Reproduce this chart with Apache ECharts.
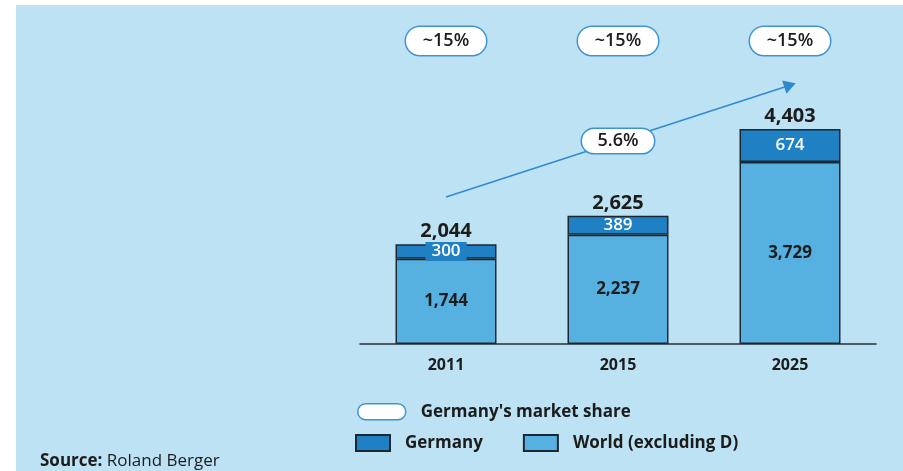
<!DOCTYPE html>
<html>
<head>
<meta charset="utf-8">
<script src="https://cdn.jsdelivr.net/npm/echarts@6/dist/echarts.min.js"></script>
<style>
  html, body { margin: 0; padding: 0; background: #ffffff; }
  #panel { position: absolute; left: 16px; top: 5px; right: 0; bottom: 0; background: #bde2f4; }
  #chart { position: absolute; left: 0; top: 0; width: 903px; height: 471px; }
</style>
</head>
<body>
<div id="panel"></div>
<div id="chart"></div>
<script>
// Market volume by year, split into Germany and rest of world
const years = ['2011', '2015', '2025'];
const germany = [300, 389, 674];
const world = [1744, 2237, 3729];
const totals = [2044, 2625, 4403];
const shareLabels = ['~15%', '~15%', '~15%'];
const cagrLabel = '5.6%';

// Growth arrow: value level at the first and last year
const trendFrom = 3010;
const trendTo = 5300;

const FONT = 'Open Sans';
const C_DE = '#1f80c4';
const C_WORLD = '#56b0e0';
const C_EDGE = '#1b2833';
const C_RING = '#3f93d3';
const C_TXT = '#1c1c1c';
const CLEAR = 'rgba(0,0,0,0)';

const Y_MAX = 6000;
const GRID = { left: 360, right: 27, top: 51, bottom: 127 };
const PLOT_H = 471 - GRID.top - GRID.bottom;

const fmt = v => Number(v).toLocaleString('en-US');

const pill = (w, h, size) => ({
  backgroundColor: '#ffffff',
  borderColor: C_RING,
  borderWidth: 1.5,
  borderRadius: h / 2,
  width: w,
  height: h,
  align: 'center',
  verticalAlign: 'middle',
  fontFamily: FONT,
  fontSize: size,
  fontWeight: 600,
  color: C_TXT
});

const chart = echarts.init(document.getElementById('chart'), null, { renderer: 'canvas' });

chart.setOption({
  animation: false,
  backgroundColor: 'transparent',
  textStyle: { fontFamily: FONT },
  grid: GRID,
  xAxis: [
    {
      type: 'category',
      data: years,
      axisLine: { lineStyle: { color: '#2a3036', width: 1.5 } },
      axisTick: { show: false },
      axisLabel: { margin: 13, fontSize: 16, fontWeight: 'bold', color: C_TXT, fontFamily: FONT }
    },
    {
      type: 'category',
      data: years,
      position: 'top',
      offset: -10,
      axisLine: { show: false },
      axisTick: { show: false },
      axisLabel: {
        margin: 6,
        formatter: (v, i) => '{p|' + shareLabels[i] + '}',
        rich: { p: pill(80, 28, 18) }
      }
    }
  ],
  yAxis: { type: 'value', min: 0, max: Y_MAX, show: false, splitLine: { show: false } },
  legend: [
    {
      left: 352, top: 398,
      itemWidth: 48, itemHeight: 16,
      data: [{
        name: "Germany's market share",
        icon: 'path://M8,0 L40,0 A8,8 0 0 1 40,16 L8,16 A8,8 0 0 1 8,0 Z',
        itemStyle: { color: '#ffffff', borderColor: C_RING, borderWidth: 1.5, opacity: 1 }
      }],
      textStyle: { fontSize: 17, fontWeight: 'bold', color: C_TXT, fontFamily: FONT, padding: [0, 0, 0, 10] }
    },
    {
      left: 350, top: 429,
      itemWidth: 34, itemHeight: 16, itemGap: 40,
      data: [{ name: 'Germany', icon: 'rect' }, { name: 'World (excluding D)', icon: 'rect' }],
      textStyle: { fontSize: 17, fontWeight: 'bold', color: C_TXT, fontFamily: FONT, padding: [0, 0, 0, 10] }
    }
  ],
  title: {
    left: 35, top: 448,
    text: '{b|Source:} Roland Berger',
    textStyle: {
      fontSize: 17, fontWeight: 'normal', color: C_TXT, fontFamily: FONT,
      rich: { b: { fontSize: 17, fontWeight: 'bold', color: C_TXT, fontFamily: FONT } }
    }
  },
  series: [
    {
      name: 'World (excluding D)',
      type: 'bar',
      stack: 'vol',
      barWidth: 101,
      data: world,
      itemStyle: { color: C_WORLD, borderColor: C_EDGE, borderWidth: 1.5 },
      label: {
        show: true, position: 'inside', formatter: p => fmt(p.value),
        fontSize: 17, fontWeight: 'bold', color: C_TXT, fontFamily: FONT
      }
    },
    {
      name: 'Germany',
      type: 'bar',
      stack: 'vol',
      barWidth: 101,
      data: germany.map(v => {
        // segments shorter than the text get a solid tag so the number stays readable
        const thin = v / Y_MAX * PLOT_H < 16;
        return thin
          ? { value: v, label: { backgroundColor: C_DE, padding: [1, 6] } }
          : v;
      }),
      itemStyle: { color: C_DE, borderColor: C_EDGE, borderWidth: 1.5 },
      label: {
        show: true, position: 'inside', formatter: p => fmt(p.value),
        fontSize: 17, fontWeight: 600, color: '#ffffff', fontFamily: FONT
      }
    },
    {
      name: 'Total',
      type: 'scatter',
      data: totals.map((v, i) => [i, v]),
      symbolSize: 1,
      itemStyle: { color: CLEAR, opacity: 1 },
      label: {
        show: true, position: 'top', distance: 2,
        formatter: p => fmt(p.value[1]),
        fontSize: 20, fontWeight: 'bold', color: C_TXT, fontFamily: FONT
      },
      z: 5
    },
    {
      name: "Germany's market share",
      type: 'scatter',
      data: [],
      itemStyle: { color: '#ffffff', borderColor: C_RING, opacity: 1 }
    },
    {
      name: 'CAGR',
      type: 'scatter',
      data: [[1, (trendFrom + trendTo) / 2]],
      symbolSize: 1,
      itemStyle: { color: CLEAR, opacity: 1 },
      label: {
        show: true, position: 'inside',
        formatter: '{p|' + cagrLabel + '}',
        rich: { p: pill(72, 24, 18) }
      },
      markLine: {
        silent: true,
        symbol: ['none', 'triangle'],
        symbolSize: [14, 12],
        lineStyle: { color: '#2f8bd0', width: 1.5, type: 'solid', opacity: 1 },
        itemStyle: { color: '#2f8bd0', opacity: 1 },
        label: { show: false },
        data: [[{ coord: [0, trendFrom] }, { coord: [2, trendTo] }]]
      },
      z: 6
    }
  ]
});
</script>
</body>
</html>
